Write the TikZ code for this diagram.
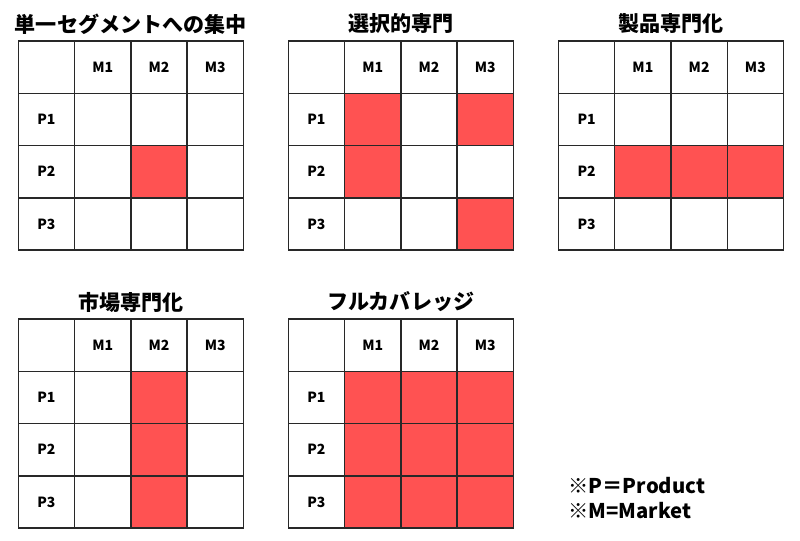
\documentclass[tikz,border=0pt]{standalone}
\usepackage{fontspec}
\setmainfont{Noto Sans CJK JP}
\definecolor{segred}{RGB}{255,82,82}
\definecolor{gridline}{RGB}{40,40,40}
\tikzset{every picture/.style={line width=0.75pt}}
\tikzset{
  cell/.style={draw=gridline, line width=1.1pt, fill=white, minimum width=42.2pt, minimum height=39.2pt, inner sep=0pt},
  hit/.style={cell, fill=segred},
  axislabel/.style={font=\bfseries\fontsize{10.5}{12}\selectfont},
  maptitle/.style={font=\bfseries\fontsize{15.8}{18}\selectfont},
  notetext/.style={font=\bfseries\fontsize{15.2}{18}\selectfont, anchor=west, inner sep=0pt}
}
% #1 name, #2 left, #3 top, #4 title, #5 filled cells row/col
\newcommand{\segmap}[5]{%
  \foreach \r in {0,...,3}{
    \foreach \c in {0,...,3}{
      \node[cell] (#1-\r\c) at ({#2+(\c+0.5)*56.25},{#3+(\r+0.5)*52.3}) {};
    }
  }
  \foreach \r/\c in {#5}{
    \node[hit] (#1-h\r\c) at ({#2+(\c+0.5)*56.25},{#3+(\r+0.5)*52.3}) {};
  }
  \foreach \k in {1,2,3}{
    \node[axislabel] at (#1-0\k) {M\k};
    \node[axislabel] at (#1-\k0) {P\k};
  }
  \node[maptitle] (#1-title) at ({#2+112.5},{#3-17}) {#4};
}

\begin{document}
\begin{tikzpicture}[x=0.75pt,y=0.75pt,yscale=-1,xscale=1]
    \useasboundingbox (0,0) rectangle (800,541);

    % top row
    \segmap{single}{18.3}{41}{単一セグメントへの集中}{2/2}
    \segmap{selective}{288.3}{41}{選択的専門}{1/1,1/3,2/1,3/3}
    \segmap{product}{558.5}{41}{製品専門化}{2/1,2/2,2/3}

    % bottom row
    \segmap{market}{18.3}{319}{市場専門化}{1/2,2/2,3/2}
    \segmap{full}{288.3}{319}{フルカバレッジ}{1/1,1/2,1/3,2/1,2/2,2/3,3/1,3/2,3/3}

    % Text Node
    \node[notetext] (noteP) at (568,486) {※P＝Product};
    \node[notetext] (noteM) at (568,511) {※M=Market};
\end{tikzpicture}
\end{document}
